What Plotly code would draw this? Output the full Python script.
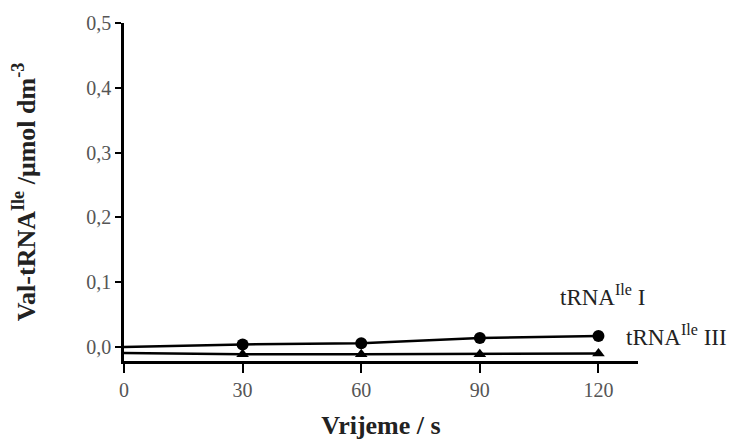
import plotly.graph_objects as go

time_s = [0, 30, 60, 90, 120]
trna_I = [0.0, 0.004, 0.006, 0.014, 0.017]
time_III = [0, 30, 60, 90, 120]
trna_III = [-0.009, -0.011, -0.011, -0.011, -0.010]
x_ticks = [0, 30, 60, 90, 120]
y_ticks = [0.0, 0.1, 0.2, 0.3, 0.4, 0.5]

serif = "Liberation Serif, Times New Roman, serif"

fig = go.Figure()
fig.add_trace(go.Scatter(x=time_s, y=trna_I, mode="lines+markers",
                         line=dict(color="black", width=2.5),
                         marker=dict(symbol="circle", size=12, color="black",
                                     opacity=[0, 1, 1, 1, 1]),
                         cliponaxis=False, showlegend=False))
fig.add_trace(go.Scatter(x=time_III, y=trna_III, mode="lines+markers",
                         line=dict(color="black", width=2.5),
                         marker=dict(symbol="triangle-up", size=11, color="black",
                                     opacity=[0, 1, 1, 1, 1]),
                         cliponaxis=False, showlegend=False))

fig.add_annotation(x=121, y=0.080, text="tRNA<sup>Ile</sup> I", showarrow=False,
                   xanchor="center", yanchor="middle",
                   font=dict(family=serif, size=23, color="#222"))
fig.add_annotation(x=126.5, y=0.0185, text="tRNA<sup>Ile</sup> III", showarrow=False,
                   xanchor="left", yanchor="middle",
                   font=dict(family=serif, size=23, color="#222"))

fig.update_layout(
    width=747, height=443,
    margin=dict(l=116, r=117, t=15, b=90),
    paper_bgcolor="white", plot_bgcolor="white",
    separators=", ",
    font=dict(family=serif, color="#555"),
)
fig.update_xaxes(range=[0, 130], tickvals=x_ticks, ticks="outside", ticklen=9,
                 tickwidth=2, tickcolor="black", showline=True, linecolor="black",
                 linewidth=2.5, showgrid=False, zeroline=False, automargin=False,
                 tickfont=dict(family=serif, size=20, color="#555"),
                 title=dict(text="<b>Vrijeme / s</b>", standoff=17,
                            font=dict(family=serif, size=26, color="#222")))
fig.update_yaxes(range=[-0.0215, 0.5], tickvals=y_ticks, tickformat=".1f",
                 ticks="outside", ticklen=6, tickwidth=2, tickcolor="black",
                 showline=True, linecolor="black", linewidth=2.5,
                 showgrid=False, zeroline=False, automargin=False,
                 tickfont=dict(family=serif, size=20, color="#555"),
                 title=dict(text="<b>Val-tRNA<sup>Ile</sup> /μmol dm<sup>-3</sup></b>",
                            standoff=52,
                            font=dict(family=serif, size=26, color="#222")))

fig.write_html("out.html")
